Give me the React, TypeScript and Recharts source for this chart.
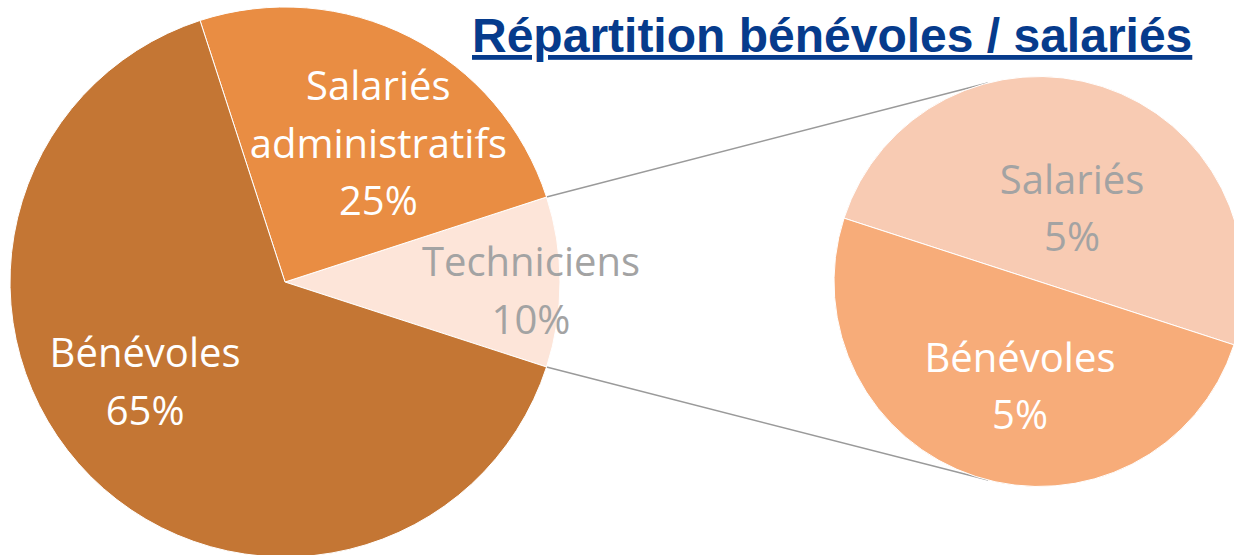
import { FC } from 'react'
import { PieChart, Pie, Cell } from 'recharts'

// main pie, starting at the bottom edge of the exploded slice and going counter-clockwise
const mainCategories = ['Techniciens', 'Salariés administratifs', 'Bénévoles']
const mainValues = [10, 25, 65]

// breakdown of the "Techniciens" slice
const subCategories = ['Salariés', 'Bénévoles']
const subValues = [5, 5]

const mainData = mainCategories.map((name, i) => ({ name, value: mainValues[i] }))
const subData = subCategories.map((name, i) => ({ name, value: subValues[i] }))

const WIDTH = 1234
const HEIGHT = 555

const MAIN = { cx: 285, cy: 282, r: 275 }
const SUB = { cx: 1039, cy: 281.5, r: 205 }
const START = -18

const mainColors = ['#FDE5D9', '#E98D43', '#C47634']
const subColors = ['#F8CBB3', '#F7AC79']
const mainTextColors = ['#A3A3A3', '#FFFFFF', '#FFFFFF']
const subTextColors = ['#A3A3A3', '#FFFFFF']

// best-fit style label placement: radius ratio + angle nudge from the slice's mid angle
const mainLabelPlace = [
  { ratio: 0.895, shift: -2 },
  { ratio: 0.607, shift: -7 },
  { ratio: 0.625, shift: -9.5 },
]
const subLabelPlace = [
  { ratio: 0.393, shift: -6.2 },
  { ratio: 0.518, shift: 7.7 },
]

const FONT = '"Open Sans", sans-serif'
const FONT_SIZE = 40
const LINE_H = 57.5
const RAD = Math.PI / 180

const makeLabel =
  (place: { ratio: number; shift: number }[], colors: string[]) =>
  (props: any) => {
    const { cx, cy, midAngle, outerRadius, index, name, value } = props
    const p = place[index]
    const a = (midAngle + p.shift) * RAD
    const x = cx + outerRadius * p.ratio * Math.cos(a)
    const y = cy - outerRadius * p.ratio * Math.sin(a)
    const lines = [...String(name).split(' '), `${value}%`]
    const firstBaseline = y - ((lines.length - 1) * LINE_H) / 2 + FONT_SIZE * 0.357
    return (
      <text
        x={x}
        y={firstBaseline}
        textAnchor="middle"
        fill={colors[index]}
        fontFamily={FONT}
        fontSize={FONT_SIZE}
      >
        {lines.map((l, i) => (
          <tspan key={i} x={x} dy={i === 0 ? 0 : LINE_H}>
            {l}
          </tspan>
        ))}
      </text>
    )
  }

// tangent point on the sub pie seen from point (px, py); side = 1 upper, -1 lower
const tangent = (px: number, py: number, side: number) => {
  const dx = px - SUB.cx
  const dy = py - SUB.cy
  const d = Math.hypot(dx, dy)
  const base = Math.atan2(dy, dx)
  const alpha = Math.acos(SUB.r / d)
  const t = base + side * alpha
  return { x: SUB.cx + SUB.r * Math.cos(t), y: SUB.cy + SUB.r * Math.sin(t) }
}

const Connectors: FC = () => {
  const sweep = (mainValues[0] / mainValues.reduce((s, v) => s + v, 0)) * 360
  const topA = (START + sweep) * RAD
  const botA = START * RAD
  const top = { x: MAIN.cx + MAIN.r * Math.cos(topA), y: MAIN.cy - MAIN.r * Math.sin(topA) }
  const bottom = { x: MAIN.cx + MAIN.r * Math.cos(botA), y: MAIN.cy - MAIN.r * Math.sin(botA) }
  const t1 = tangent(top.x, top.y, 1)
  const t2 = tangent(bottom.x, bottom.y, -1)
  return (
    <g stroke="#9A9A9A" strokeWidth={1.5}>
      <line x1={top.x} y1={top.y} x2={t1.x} y2={t1.y} />
      <line x1={bottom.x} y1={bottom.y} x2={t2.x} y2={t2.y} />
    </g>
  )
}

export default function App() {
  return (
    <div style={{ width: WIDTH, height: HEIGHT, position: 'relative', overflow: 'hidden', background: '#fff' }}>
      <style>{'body{margin:0}'}</style>
      <PieChart width={WIDTH} height={HEIGHT} margin={{ top: 0, right: 0, bottom: 0, left: 0 }}>
        <Pie
          data={mainData}
          dataKey="value"
          nameKey="name"
          cx={MAIN.cx}
          cy={MAIN.cy}
          outerRadius={MAIN.r}
          startAngle={START}
          endAngle={START + 360}
          stroke="#FFFFFF"
          strokeWidth={1}
          label={makeLabel(mainLabelPlace, mainTextColors)}
          labelLine={false}
          isAnimationActive={false}
        >
          {mainData.map((d, i) => (
            <Cell key={d.name} fill={mainColors[i]} />
          ))}
        </Pie>
        <Pie
          data={subData}
          dataKey="value"
          nameKey="name"
          cx={SUB.cx}
          cy={SUB.cy}
          outerRadius={SUB.r}
          startAngle={START}
          endAngle={START + 360}
          stroke="#FFFFFF"
          strokeWidth={1}
          label={makeLabel(subLabelPlace, subTextColors)}
          labelLine={false}
          isAnimationActive={false}
        >
          {subData.map((d, i) => (
            <Cell key={d.name} fill={subColors[i]} />
          ))}
        </Pie>
        <Connectors />
        <text
          x={472}
          y={52}
          fontFamily='"Liberation Sans", Arial, sans-serif'
          fontWeight="bold"
          fontSize={48}
          fill="#063B8C"
          textDecoration="underline"
        >
          Répartition bénévoles / salariés
        </text>
      </PieChart>
    </div>
  )
}
